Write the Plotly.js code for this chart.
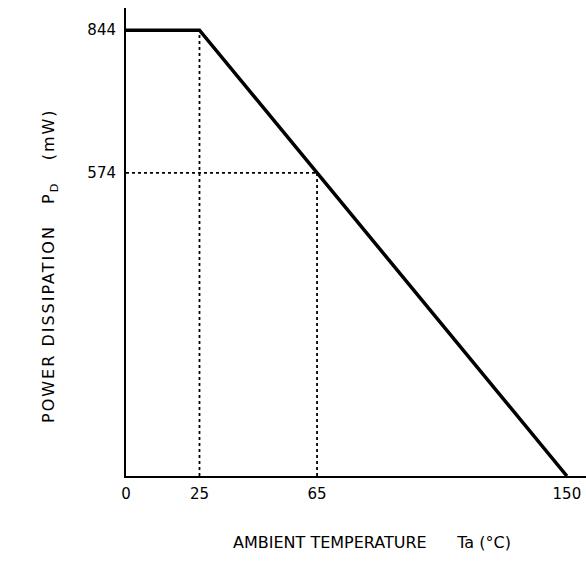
<!DOCTYPE html>
<html>
<head>
<meta charset="utf-8">
<script src="https://cdn.plot.ly/plotly-3.0.1.min.js"></script>
<style>html,body{margin:0;padding:0;background:#fff;}#chart{width:586px;height:562px;}</style>
</head>
<body>
<div id="chart"></div>
<script>
const temperature = [0, 25, 150];
const powerDissipation = [844, 844, 0];
const xTickValues = [0, 25, 65, 150];
const yTickValues = [574, 844];
const kneeTemp = 25;
const kneePower = 844;
const refTemp = 65;
const refPower = 574;

const FONT = "'DejaVu Sans', 'Open Sans', sans-serif";

const traces = [
  {x: [kneeTemp, kneeTemp], y: [0, kneePower], mode: 'lines', line: {color: '#000', width: 1.8, dash: 'dot'}, hoverinfo: 'skip'},
  {x: [refTemp, refTemp], y: [0, refPower], mode: 'lines', line: {color: '#000', width: 1.8, dash: 'dot'}, hoverinfo: 'skip'},
  {x: [0, refTemp], y: [refPower, refPower], mode: 'lines', line: {color: '#000', width: 1.8, dash: 'dot'}, hoverinfo: 'skip'},
  {x: temperature, y: powerDissipation, mode: 'lines', line: {color: '#000', width: 3.5}, cliponaxis: false}
];

const layout = {
  width: 586, height: 562,
  margin: {l: 126, r: 0, t: 8, b: 86},
  paper_bgcolor: '#fff', plot_bgcolor: '#fff',
  showlegend: false,
  font: {family: FONT, color: '#000', size: 15},
  xaxis: {
    range: [0, 156.5], showgrid: false, zeroline: false,
    showline: true, linecolor: '#000', linewidth: 2,
    tickvals: xTickValues, ticktext: xTickValues.map(String),
    ticks: '', ticklabelstandoff: 3,
    tickfont: {family: FONT, size: 15, color: '#000'}
  },
  yaxis: {
    range: [0, 886], showgrid: false, zeroline: false,
    showline: true, linecolor: '#000', linewidth: 2,
    tickvals: yTickValues, ticktext: yTickValues.map(String),
    ticks: '', ticklabelstandoff: 5,
    tickfont: {family: FONT, size: 15, color: '#000'}
  },
  annotations: [
    {text: 'AMBIENT TEMPERATURE&nbsp;&nbsp;&nbsp;&nbsp;&nbsp;&nbsp;Ta (°C)', xref: 'paper', yref: 'paper',
     x: 0.535, y: -0.143, xanchor: 'center', yanchor: 'middle', showarrow: false,
     font: {family: FONT, size: 16, color: '#000'}},
    {text: 'POWER DISSIPATION&nbsp;&nbsp;&nbsp;P<sub>D</sub>&nbsp;&nbsp;&nbsp;(mW)', xref: 'paper', yref: 'paper',
     x: -0.165, y: 0.449, xanchor: 'center', yanchor: 'middle', textangle: -90, showarrow: false,
     font: {family: FONT, size: 16, color: '#000'}}
  ]
};

Plotly.newPlot('chart', traces, layout, {displayModeBar: false, staticPlot: true}).then(function () {
  const ann = document.querySelectorAll('.annotation');
  if (ann.length > 1) {
    const t = ann[1].querySelector('.annotation-text');
    if (t) t.style.letterSpacing = '2px';
  }
});
</script>
</body>
</html>
